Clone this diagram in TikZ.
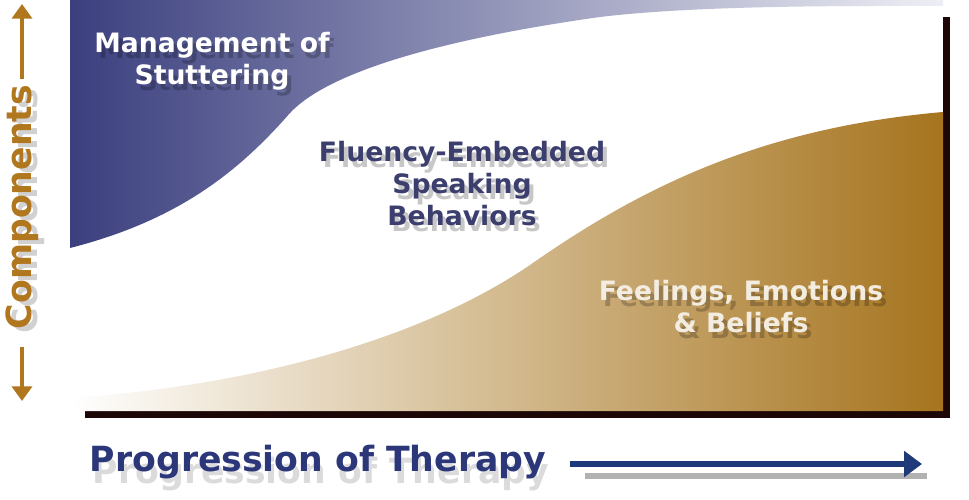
\documentclass[tikz,border=0pt]{standalone}
\usepackage{fontspec}
\setmainfont{DejaVu Sans}
\usetikzlibrary{arrows.meta}
\definecolor{navyfill}{HTML}{3B3F7E}
\definecolor{navylight}{HTML}{EEEFF5}
\definecolor{tanfill}{HTML}{A6741E}
\definecolor{navytext}{HTML}{3C3F6E}
\definecolor{progtext}{HTML}{2B3778}
\definecolor{compbrown}{HTML}{B0771F}
\definecolor{creamtext}{HTML}{F3ECE0}
\definecolor{arrownavy}{HTML}{1F3A78}
\definecolor{panelshadow}{HTML}{1C0606}

\begin{document}
\begin{tikzpicture}[x = 0.75pt, y = -0.75pt, font=\bfseries]
	\tikzstyle{areaLabel}=[align = center, inner sep = 0pt, font = \bfseries\fontsize{20}{24}\selectfont]
	\tikzstyle{shadowLabel}=[areaLabel, text = black, opacity = 0.22]
	\tikzstyle{axisLabel}=[font = \bfseries\fontsize{26}{30}\selectfont]
	\tikzstyle{compArrow}=[draw = compbrown, line width = 3pt, -{Triangle[length = 11pt, width = 15pt]}]
	\useasboundingbox (0,0) rectangle (969,499);
	% panel and its shadow
	\fill[panelshadow] (85,17) rectangle (950,418);
	\fill[white] (70,0) rectangle (943,411);
	\shade[left color = navyfill, right color = navylight] (70,0) -- (943,0) -- (943,6)
		.. controls (850,6) and (700,5) .. (600,17)
		.. controls (450,38) and (330,70) .. (290,113)
		.. controls (240,170) and (180,220) .. (70,248) -- cycle;
	\shade[left color = white, right color = tanfill] (943,411) -- (70,411) -- (70,398)
		.. controls (250,386) and (420,340) .. (530,265)
		.. controls (640,188) and (760,128) .. (943,112) -- cycle;
	% area labels
	\node[shadowLabel] at (216,67) {Management of\\Stuttering};
	\node[areaLabel, text = white] (mgmt) at (212,61) {Management of\\Stuttering};
	\node[shadowLabel] at (466,190) {Fluency-Embedded\\Speaking\\Behaviors};
	\node[areaLabel, text = navytext] (fluency) at (462,184) {Fluency-Embedded\\Speaking\\Behaviors};
	\node[shadowLabel] at (745,313) {Feelings, Emotions\\\& Beliefs};
	\node[areaLabel, text = creamtext] (feelings) at (741,307) {Feelings, Emotions\\\& Beliefs};
	% vertical axis
	\node[axisLabel, rotate = 90, text = black, opacity = 0.18] at (28,211) {Components};
	\node[axisLabel, rotate = 90, text = compbrown, inner sep = 4pt] (components) at (22,207) {Components};
	\coordinate (compTop) at (22,4);
	\coordinate (compBottom) at (22,401);
	\draw[compArrow] (components.east) -- (compTop);
	\draw[compArrow] ([yshift = -9pt]components.west) -- (compBottom);
	% horizontal axis
	\node[axisLabel, text = black, opacity = 0.14] at (321,474) {Progression of Therapy};
	\node[axisLabel, text = progtext] (progression) at (318,462) {Progression of Therapy};
	\coordinate (progStart) at (570,464);
	\coordinate (progEnd) at (922,464);
	\coordinate (progShadowStart) at (585,476);
	\coordinate (progShadowEnd) at (927,476);
	\draw[black!30, line width = 4pt] (progShadowStart) -- (progShadowEnd);
	\draw[arrownavy, line width = 3.8pt, -{Triangle[length = 13.5pt, width = 19pt]}] (progStart) -- (progEnd);
\end{tikzpicture}
\end{document}
